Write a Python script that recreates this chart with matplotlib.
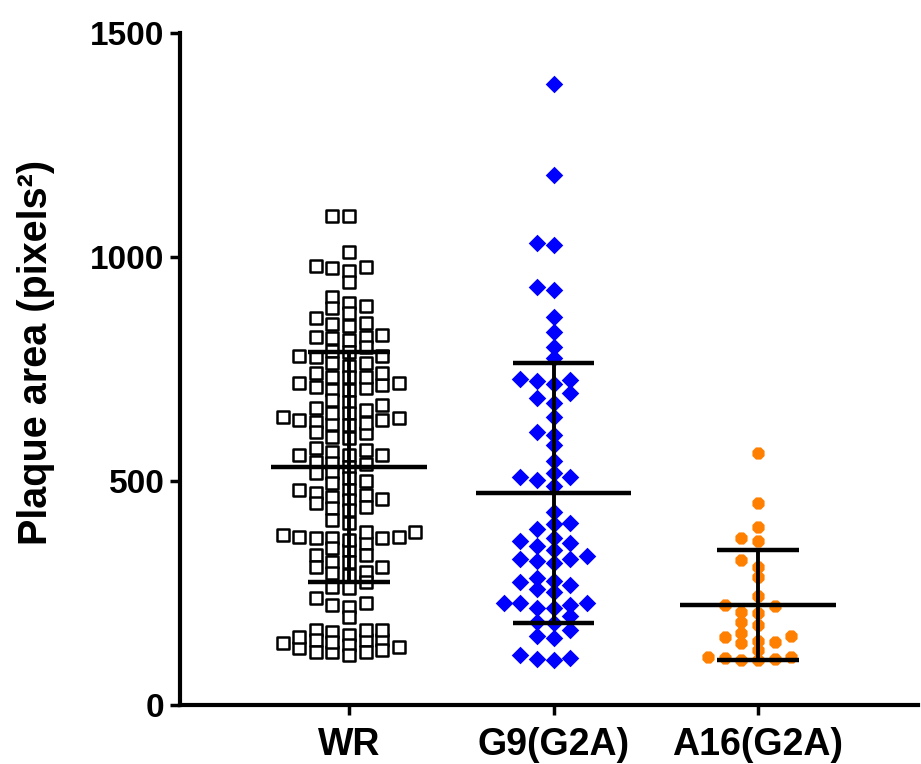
import numpy as np
import matplotlib
matplotlib.use("Agg")
import matplotlib.pyplot as plt

# ---------------- data ----------------
categories = ["WR", "G9(G2A)", "A16(G2A)"]

wr_values = [1092, 1092, 1012, 980, 977, 969, 975, 945, 911, 890, 886, 898, 876, 864, 853, 850, 846,
             826, 822, 822, 815, 819,
             790, 778, 778, 789, 800, 776, 763, 763, 757,
             719, 733, 710, 741, 714, 741, 708, 733, 703, 733, 703, 719,
             677, 652, 627, 663, 636, 607, 681, 652, 625, 599, 658, 632, 610, 670, 643, 641, 636, 629,
             596, 565, 569, 574,
             543, 541, 558, 558, 558, 539, 532, 518, 518, 501, 507, 495, 469, 480, 458, 473, 443, 465,
             440, 480, 451, 460, 435,
             413, 387, 362, 335, 309, 387, 376, 373, 335, 309, 373, 346, 320, 373, 320, 406, 379, 350,
             368, 376,
             290, 295, 297, 275, 261, 264, 239, 223, 227, 219, 197,
             167, 145, 127, 167, 145, 119, 152, 130, 138, 119, 156, 134, 112, 167, 145, 123, 163, 141, 119]

g9_values = [1386, 1183, 1027, 1031, 926, 932, 867, 833, 800, 775,
             727, 717, 724, 725, 685, 696, 674, 643, 603, 610, 580, 545,
             502, 510, 517, 509, 489, 431, 405, 407, 392,
             372, 365, 361, 355, 346, 333, 325, 316, 325, 322,
             283, 275, 277, 268, 260, 253, 228, 227, 216, 216, 227, 223, 199,
             186, 184, 167, 154, 149, 100, 112, 102, 106]

a16_values = [563, 450, 398, 365, 372, 324, 309, 286, 243, 221, 208, 223, 205, 186,
              179, 160, 152, 154, 138, 141, 143, 123, 102, 108, 100, 108, 100, 105]

means = [531, 473, 223]
sds = [257, 290, 123]

yticks = [0, 500, 1000, 1500]

# ---------------- figure ----------------
plt.rcParams['font.family'] = ['Liberation Sans', 'DejaVu Sans']

fig = plt.figure(figsize=(9.21, 7.64), dpi=100)
ax = fig.add_axes([180 / 921, 1 - 705 / 764, 738 / 921, 672 / 764])
ax.set_xlim(-0.826, 2.782)
ax.set_ylim(0, 1500)

# swarm layout helper: places points in columns avoiding vertical overlap
def swarm_offsets(vals, step, min_gap):
    order = np.argsort(vals)
    placed = {}
    offs = np.zeros(len(vals))
    cands = [0]
    for j in range(1, 20):
        cands += [-j, j]
    for i in order:
        v = vals[i]
        for c in cands:
            if all(abs(v - u) >= min_gap for u in placed.get(c, [])):
                placed.setdefault(c, []).append(v)
                offs[i] = c * step
                break
    return offs

step = 16.6 / 204.5
groups = [np.array(wr_values, float), np.array(g9_values, float), np.array(a16_values, float)]
styles = [
    dict(marker='s', s=85, facecolors='white', edgecolors='black', linewidths=1.8),
    dict(marker='D', s=80, color='#0000FF', linewidths=0),
    dict(marker='8', s=90, color='#FF8000', linewidths=0),
]
gaps = [22, 23, 20]
for i, (vals, st) in enumerate(zip(groups, styles)):
    offs = swarm_offsets(vals, step, gaps[i])
    ax.scatter(i + offs, vals, zorder=2, clip_on=False, **st)

# mean +- SD
for i, (m, s) in enumerate(zip(means, sds)):
    ax.plot([i - 0.38, i + 0.38], [m, m], color='black', lw=3.2, zorder=3, solid_capstyle='butt')
    ax.plot([i, i], [m - s, m + s], color='black', lw=2.8, zorder=3)
    for y in (m - s, m + s):
        ax.plot([i - 0.2, i + 0.2], [y, y], color='black', lw=3.2, zorder=3, solid_capstyle='butt')

# axes styling
for side in ('top', 'right'):
    ax.spines[side].set_visible(False)
for side in ('left', 'bottom'):
    ax.spines[side].set_linewidth(3)
ax.set_yticks(yticks)
ax.set_yticklabels([str(t) for t in yticks], fontsize=24, fontweight='bold')
ax.set_xticks(range(len(categories)))
ax.set_xticklabels(categories, fontsize=27, fontweight='bold')
ax.tick_params(axis='both', width=2.5, length=7, direction='out')
ax.tick_params(axis='y', pad=4)
ax.tick_params(axis='x', pad=9)
ax.set_ylabel("Plaque area (pixels²)", fontsize=28.5, fontweight='bold')
ax.yaxis.set_label_coords(-0.169, 0.525)

fig.savefig("out.png", dpi=100)
